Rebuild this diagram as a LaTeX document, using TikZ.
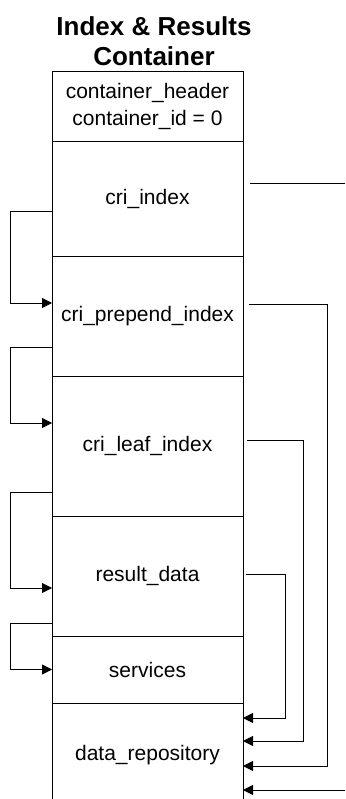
\documentclass[tikz,border=0pt]{standalone}
\usepackage{fontspec}
\setmainfont{Liberation Sans}
\usetikzlibrary{arrows.meta}
\tikzset{
	part/.style={draw, rectangle, minimum width=191pt, inner sep=0pt, outer sep=0pt, font=\fontsize{21}{27}\selectfont, align=center},
	link/.style={-{Triangle[length=10pt,width=10pt]}},
}
\begin{document}
\begin{tikzpicture}[x=1pt, y=-1pt, line width=0.8pt]
		\useasboundingbox (0,0) rectangle (345,799);
		\clip (0,0) rectangle (345,799);
		\node[font=\bfseries\fontsize{26}{30}\selectfont, align=center] (title) at (154,41) {Index \& Results\\Container};
		
		\node[part, minimum height=70pt] (hdr) at (147.5,106) {container\_header\\container\_id = 0};
		\node[part, minimum height=115pt] (idx) at (147.5,198.5) {cri\_index};
		\node[part, minimum height=120pt] (pre) at (147.5,316) {cri\_prepend\_index};
		\node[part, minimum height=140pt] (leaf) at (147.5,446) {cri\_leaf\_index};
		\node[part, minimum height=120pt] (res) at (147.5,576) {result\_data};
		\node[part, minimum height=67pt] (srv) at (147.5,669.5) {services};
		\node[part, minimum height=104pt] (repo) at (147.5,755) {data\_repository};
		
		\coordinate (out) at (345,183);
		\coordinate (in) at (345,790);
		
		\draw[link] ([yshift=-12.5pt]idx.west) -- ++(-42,0) |- ([yshift=13pt]pre.west);
		\draw[link] ([yshift=-31pt]pre.west) -- ++(-42,0) |- ([yshift=23pt]leaf.west);
		\draw[link] ([yshift=-46pt]leaf.west) -- ++(-42,0) |- ([yshift=-12pt]res.west);
		\draw[link] ([yshift=-47pt]res.west) -- ++(-42,0) |- (srv.west);
		
		\draw[-] ([xshift=7pt,yshift=15.5pt]idx.east) -- (out);
		\draw[link] ([xshift=6pt,yshift=12pt]pre.east) -- ++(78,0) |- ([yshift=-11pt]repo.east);
		\draw[link] ([xshift=4pt,yshift=6pt]leaf.east) -- ++(56,0) |- ([yshift=14pt]repo.east);
		\draw[link] ([xshift=3pt,yshift=2pt]res.east) -- ++(39,0) |- ([yshift=37pt]repo.east);
		\draw[link] (in) -- ([yshift=-35pt]repo.east);
		
	\end{tikzpicture}
\end{document}
